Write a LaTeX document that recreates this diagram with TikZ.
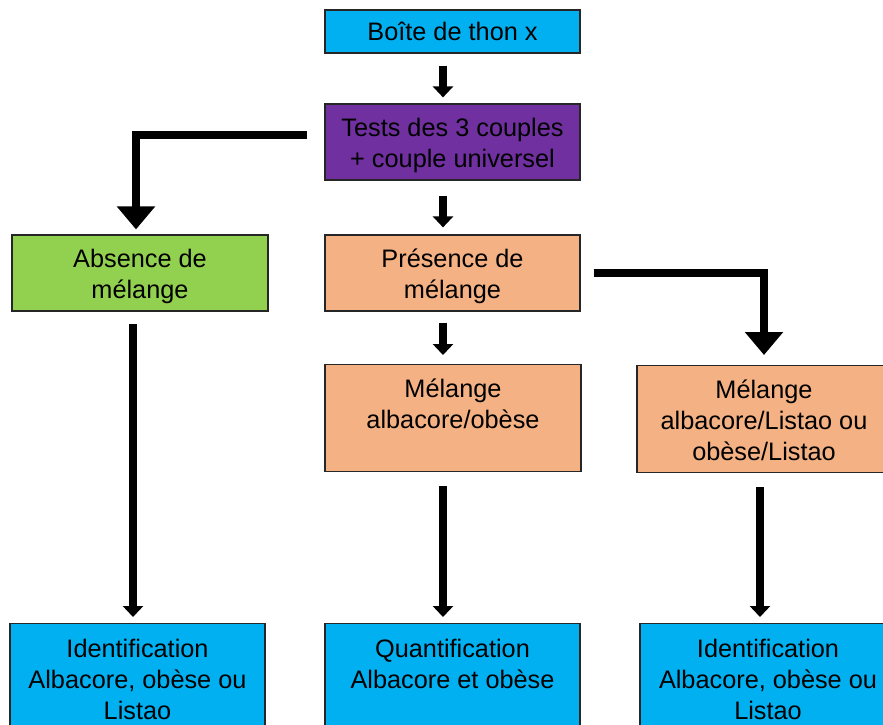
\documentclass[tikz,border=0pt]{standalone}
\usepackage{fontspec}
\setmainfont{Liberation Sans}
\usepackage{tikz}
\usetikzlibrary{positioning}
\usetikzlibrary{arrows.meta}
\definecolor{boxblue}{HTML}{00B0F0}
\definecolor{boxpurple}{HTML}{7030A0}
\definecolor{boxgreen}{HTML}{92D050}
\definecolor{boxorange}{HTML}{F4B183}
\tikzset{
    tbox/.style = {rectangle, draw=black!85, line width=1.2pt, align=center, inner sep=0pt},
    tboxb/.style = {tbox, fill=boxblue},
    tboxp/.style = {tbox, fill=boxpurple},
    tboxg/.style = {tbox, fill=boxgreen},
    tboxo/.style = {tbox, fill=boxorange},
    midtwo/.style = {text height=63pt, text depth=13pt},
    toptwo/.style = {text height=64pt, text depth=43pt, anchor=north}, % text at the top
    topthree/.style = {text height=95pt, text depth=12pt, anchor=north},
    lowtwo/.style = {text height=65pt, text depth=69pt, anchor=north},
    lowthree/.style = {text height=96pt, text depth=38pt, anchor=north},
    flow/.style = {-{Triangle[width=20pt,length=11pt]}, line width=8pt},
    flowb/.style = {-{Triangle[width=37pt,length=23pt]}, line width=8pt},
}

\begin{document}
\begin{tikzpicture}[x=1pt, y=-1pt,
  font=\fontsize{25.3}{31}\selectfont]
  \useasboundingbox (0,0) rectangle (883,724);
  \clip (0,0) rectangle (883,724);

  \node[tboxb, minimum width=255pt, minimum height=43pt] at (452.5,31.5) (boite) {Boîte de thon x};
  \node[tboxp, midtwo, minimum width=255pt] at (452.5,142) (tests) {Tests des 3 couples\\+ couple universel};
  \node[tboxg, midtwo, minimum width=256pt] at (140,273) (absent) {Absence de\\mélange};
  \node[tboxo, midtwo, minimum width=255pt] at (452.5,273) (pres) {Présence de\\mélange};
  \node[tboxo, toptwo, minimum width=256pt] at (453,364) (melao) {Mélange\\albacore/obèse};
  \node[tboxo, topthree, minimum width=254pt] at (764,365) (mells) {Mélange\\albacore/Listao ou\\obèse/Listao};

  \node[tboxb, lowthree, minimum width=255pt] at (137.5,623) (identl) {Identification\\Albacore, obèse ou\\Listao};
  \node[tboxb, lowtwo, minimum width=255pt] at (452.5,623) (quant) {Quantification\\Albacore et obèse};
  \node[tboxb, lowthree, minimum width=256pt] at (768,623) (identr) {Identification\\Albacore, obèse ou\\Listao};

  \draw[flow, shorten <=12pt, shorten >=6pt] ([xshift=-9.5pt]boite.south) -- ([xshift=-9.5pt]tests.north);
  \draw[flow, shorten <=15pt, shorten >=7pt] ([xshift=-9.5pt]tests.south) -- ([xshift=-9.5pt]pres.north);
  \draw[flowb, shorten <=17pt, shorten >=5pt] ([yshift=7pt]tests.west) -| ([xshift=-4pt]absent.north);
  \draw[flowb, shorten <=13pt, shorten >=10pt] (pres.east) -| (mells.north);
  \draw[flow, shorten <=11pt, shorten >=9pt] ([xshift=-9.5pt]pres.south) -- ([xshift=-10pt]melao.north);

  \draw[flow, shorten <=12pt, shorten >=6pt] ([xshift=-7pt]absent.south) -- ([xshift=-4.5pt]identl.north);
  \draw[flow, shorten <=14pt, shorten >=6pt] ([xshift=-10pt]melao.south) -- ([xshift=-9.5pt]quant.north);
  \draw[flow, shorten <=14pt, shorten >=6pt] ([xshift=-4pt]mells.south) -- ([xshift=-8pt]identr.north);

\end{tikzpicture}
\end{document}
